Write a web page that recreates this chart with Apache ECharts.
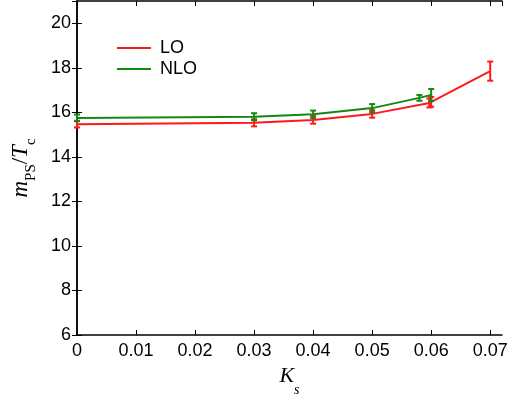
<!DOCTYPE html>
<html>
<head>
    <meta charset="UTF-8">
    <title>m_PS/T_c vs K_s</title>
    <script src="https://cdn.jsdelivr.net/npm/echarts@6/dist/echarts.min.js"></script>
</head>
<body style="margin:0">
    <div id="main" style="width:524px;height:402px"></div>
    <script>
        // LO data
        var loX   = [0, 0.03, 0.04, 0.05, 0.0597, 0.06, 0.07];
        var loY   = [15.47, 15.53, 15.66, 15.93, 16.42, 16.47, 17.85];
        var loErr = [0.15, 0.16, 0.17, 0.17, 0.2, 0.22, 0.43];
        // NLO data
        var nloX   = [0, 0.03, 0.04, 0.05, 0.058, 0.06];
        var nloY   = [15.75, 15.8, 15.91, 16.19, 16.65, 16.78];
        var nloErr = [0.15, 0.16, 0.17, 0.18, 0.13, 0.27];

        var xTicks = [0, 0.01, 0.02, 0.03, 0.04, 0.05, 0.06, 0.07];
        var yTicks = [6, 8, 10, 12, 14, 16, 18, 20];

        var RED = '#ff1a1a', GREEN = '#128a12';

        function pairs(xs, ys) {
            return xs.map(function (x, i) { return [x, ys[i]]; });
        }
        function errRows(xs, ys, es) {
            return xs.map(function (x, i) { return [x, ys[i] - es[i], ys[i] + es[i]]; });
        }
        function errBar(color) {
            return function (params, api) {
                var lo = api.coord([api.value(0), api.value(1)]);
                var hi = api.coord([api.value(0), api.value(2)]);
                var w = 3;
                var st = {stroke: color, lineWidth: 2};
                return {
                    type: 'group',
                    children: [
                        {type: 'line', shape: {x1: lo[0], y1: lo[1], x2: hi[0], y2: hi[1]}, style: st},
                        {type: 'line', shape: {x1: lo[0] - w, y1: lo[1], x2: lo[0] + w, y2: lo[1]}, style: st},
                        {type: 'line', shape: {x1: hi[0] - w, y1: hi[1], x2: hi[0] + w, y2: hi[1]}, style: st}
                    ]
                };
            };
        }

        var font = 'Liberation Sans, Arial, sans-serif';
        var serif = 'Liberation Serif, Times New Roman, serif';
        var axisLine = {show: true, lineStyle: {color: '#000', width: 1.5}};
        var tick = {show: true, inside: true, length: 5, lineStyle: {color: '#000', width: 1}};

        var app = echarts.init(document.getElementById('main'));
        var option = {
            animation: false,
            grid: {left: 77, right: 22, top: 1, bottom: 62},
            legend: {
                data: ['LO', 'NLO'],
                orient: 'vertical',
                left: 112, top: 34,
                icon: 'rect',
                itemWidth: 34, itemHeight: 2, itemGap: 3,
                textStyle: {fontFamily: font, fontSize: 18, color: '#000', padding: [0, 0, 0, 4]}
            },
            xAxis: [
                {
                    type: 'value', min: 0, max: 0.072, interval: 0.01,
                    axisLine: axisLine, axisTick: tick, splitLine: {show: false},
                    axisLabel: {
                        color: '#000', fontFamily: font, fontSize: 18, margin: 7,
                        showMaxLabel: false,
                        formatter: function (v) {
                            if (xTicks.indexOf(+v.toFixed(2)) < 0) return '';
                            return v === 0 ? '0' : v.toFixed(2);
                        }
                    },
                    name: '{i|K}{s|s}',
                    nameLocation: 'middle', nameGap: 30,
                    nameTextStyle: {
                        rich: {
                            i: {fontFamily: serif, fontStyle: 'italic', fontSize: 22, color: '#000', verticalAlign: 'top', lineHeight: 32},
                            s: {fontFamily: serif, fontStyle: 'italic', fontSize: 14, color: '#000', verticalAlign: 'bottom', lineHeight: 32}
                        }
                    }
                },
                {
                    type: 'value', position: 'top', min: 0, max: 0.072, interval: 0.01,
                    axisLine: axisLine, axisTick: tick, axisLabel: {show: false}, splitLine: {show: false}
                }
            ],
            yAxis: [
                {
                    type: 'value', min: 6, max: 21, interval: 2,
                    axisLine: axisLine, axisTick: tick, splitLine: {show: false},
                    axisLabel: {
                        color: '#000', fontFamily: font, fontSize: 18, margin: 6,
                        showMaxLabel: false,
                        formatter: function (v) { return yTicks.indexOf(v) < 0 ? '' : String(v); }
                    },
                    name: '{i|m}{s|PS}{n|/}{i|T}{s|c}',
                    nameLocation: 'middle', nameGap: 38, nameRotate: 90,
                    nameTextStyle: {
                        rich: {
                            i: {fontFamily: serif, fontStyle: 'italic', fontSize: 23, color: '#000', verticalAlign: 'top', lineHeight: 30},
                            n: {fontFamily: serif, fontSize: 23, color: '#000', verticalAlign: 'top', lineHeight: 30},
                            s: {fontFamily: serif, fontSize: 15, color: '#000', verticalAlign: 'bottom', lineHeight: 30}
                        }
                    }
                },
                {
                    type: 'value', position: 'right', min: 6, max: 21, interval: 2,
                    axisLine: axisLine, axisTick: tick, axisLabel: {show: false}, splitLine: {show: false}
                }
            ],
            series: [
                {
                    name: 'LO', type: 'line', data: pairs(loX, loY),
                    symbol: 'none', color: RED, lineStyle: {color: RED, width: 2}, z: 3
                },
                {
                    name: 'NLO', type: 'line', data: pairs(nloX, nloY),
                    symbol: 'none', color: GREEN, lineStyle: {color: GREEN, width: 2}, z: 3
                },
                {
                    name: 'LO err', type: 'custom', renderItem: errBar(RED),
                    data: errRows(loX, loY, loErr), encode: {x: 0, y: [1, 2]}, z: 4
                },
                {
                    name: 'NLO err', type: 'custom', renderItem: errBar(GREEN),
                    data: errRows(nloX, nloY, nloErr), encode: {x: 0, y: [1, 2]}, z: 4
                }
            ]
        };
        app.setOption(option);
    </script>
</body>
</html>
